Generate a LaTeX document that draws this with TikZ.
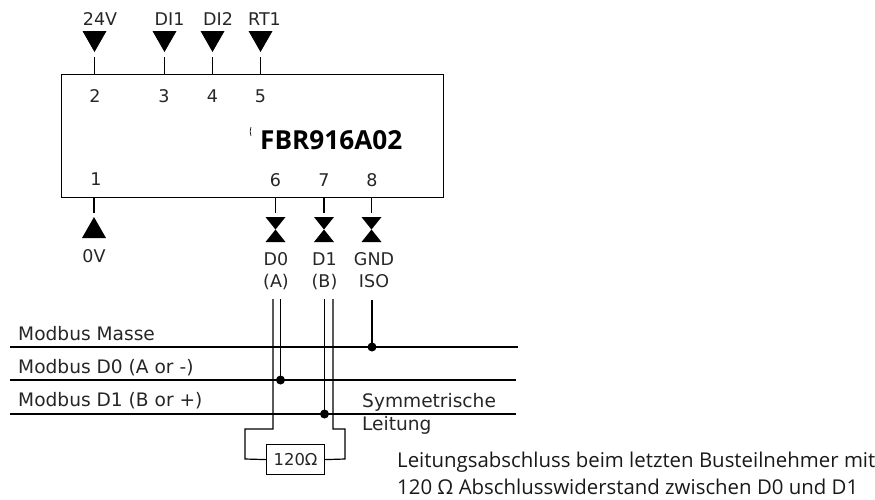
\documentclass[tikz,border=0pt]{standalone}
\usepackage{fontspec}
\setmainfont{DejaVu Sans}
\newfontfamily\notefont{Open Sans}
\usetikzlibrary{calc}
\tikzset{
  wire/.style={draw=black,line width=1.2pt},
  heavy/.style={draw=black,line width=1.9pt},
  lab/.style={inner sep=0pt,font=\fontsize{17.5}{21.5}\selectfont,anchor=center,text=black!85},
  buslab/.style={inner sep=0pt,font=\fontsize{18.6}{18.6}\selectfont,anchor=west,text=black!85},
  note/.style={inner sep=0pt,font=\notefont\fontsize{20.4}{20}\selectfont,anchor=west,text=black!90},
  dot/.style={circle,fill=black,inner sep=0pt,minimum size=9pt},
  chip/.style={draw=black,line width=1.4pt,inner sep=0pt,anchor=north west,minimum width=382.5pt,minimum height=122.5pt},
  res/.style={draw=black,line width=1.2pt,inner sep=0pt,anchor=north west,minimum width=58pt,minimum height=30pt,font=\fontsize{16.4}{16}\selectfont,text=black!85},
}
\newcommand{\pindown}[1]{\fill[black] ($(#1)+(-12,31)$) -- ($(#1)+(12,31)$) -- ($(#1)+(0,52)$) -- cycle;}
\newcommand{\pinup}[1]{\fill[black] ($(#1)+(-12,238)$) -- ($(#1)+(12,238)$) -- ($(#1)+(0,217)$) -- cycle;}
\newcommand{\pinbow}[1]{\fill[black] ($(#1)+(-10,217)$) -- ($(#1)+(10,217)$) -- ($(#1)+(-10,242)$) -- ($(#1)+(10,242)$) -- cycle;}
\begin{document}
\begin{tikzpicture}[x=1pt,y=-1pt]
\useasboundingbox (0,0) rectangle (875,499);
\node[chip] (chip) at (60.5,74) {};
% upper pins
\foreach \n/\x/\t/\lx in {a/94.5/24V/100,b/164.5/DI1/169.5,c/212.5/DI2/218,d/260.5/RT1/264.5}{
  \coordinate (\n) at (\x,0);
  \pindown{\n}
  \draw[wire] (\x,57) coordinate (\n t) -- (\n t |- chip.north);
  \node[lab] (lab\n) at (\lx,19) {\t};
}
% pin numbers
\foreach \n/\x/\y in {2/95/96,3/164/96,4/212.5/96,5/260.5/96,1/96/179,6/275.5/180,7/324/180,8/372/180}{
  \node[lab] (num\n) at (\x,\y) {\n};
}
\node[inner sep=0pt,anchor=west,font=\notefont\bfseries\fontsize{26.2}{26}\selectfont] (title) at (260,140) {FBR916A02};
\draw[line width=.6pt] (251,127) .. controls (249.8,130) and (249.8,133) .. (251,136);
% lower pins
\coordinate (e) at (94,0);
\pinup{e}
\draw[heavy,line width=1.4pt] (e |- chip.south) -- (94,213) coordinate (et);
\node[lab] (lab0v) at (94,256) {0V};
\foreach \n/\x in {f/275.5,g/324,h/371.5}{
  \coordinate (\n) at (\x,0);
  \pinbow{\n}
  \draw[wire] (\n |- chip.south) -- (\x,213) coordinate (\n t);
}
\node[lab,align=center] (labd0) at (276,272) {\strut D0\\\strut (A)};
\node[lab,align=center] (labd1) at (324.5,272) {\strut D1\\\strut (B)};
\node[lab,align=center] (labgnd) at (374,272) {\strut GND\\\strut ISO};
% buses
\coordinate (m1) at (10,347); \coordinate (m2) at (518,347);
\coordinate (z1) at (10,380); \coordinate (z2) at (516,380);
\coordinate (y1) at (10,414); \coordinate (y2) at (516,414);
\draw[heavy] (m1) -- (m2);
\draw[heavy] (z1) -- (z2);
\draw[heavy] (y1) -- (y2);
\node[buslab] (lm) at (18,334) {Modbus Masse};
\node[buslab] (lz) at (18,367.5) {Modbus D0 (A or -)};
\node[buslab] (ly) at (18,401) {Modbus D1 (B or +)};
\node[buslab] (ls) at (362,402) {Symmetrische};
\node[buslab] (ll) at (362,425) {Leitung};
% resistor
\node[res] (r) at (266,444) {120Ω};
% junctions
\node[dot] (j1) at (372,347) {};
\node[dot] (j2) at (280.5,380) {};
\node[dot] (j3) at (324.5,414) {};
\coordinate (v1) at (372,300);
\coordinate (v2) at (280.5,299);
\coordinate (v3) at (324.5,299);
\coordinate (v4) at (273,299);
\coordinate (v5) at (333,299);
\draw[heavy] (v1) -- (j1.center);
\draw[heavy] (v2) -- (j2.center);
\draw[heavy] (v3) -- (j3.center);
\coordinate (l1) at (245,429); \coordinate (l2) at (345,429);
\draw[wire] (v4) -- (273,429) -- (l1) -- (245,459) -- (r.west);
\draw[wire] (v5) -- (333,429) -- (l2) -- (345,459) -- (r.east);
\node[note] (n1) at (397,462) {Leitungsabschluss beim letzten Busteilnehmer mit};
\node[note] (n2) at (397,487) {120 Ω Abschlusswiderstand zwischen D0 und D1};
\end{tikzpicture}
\end{document}
